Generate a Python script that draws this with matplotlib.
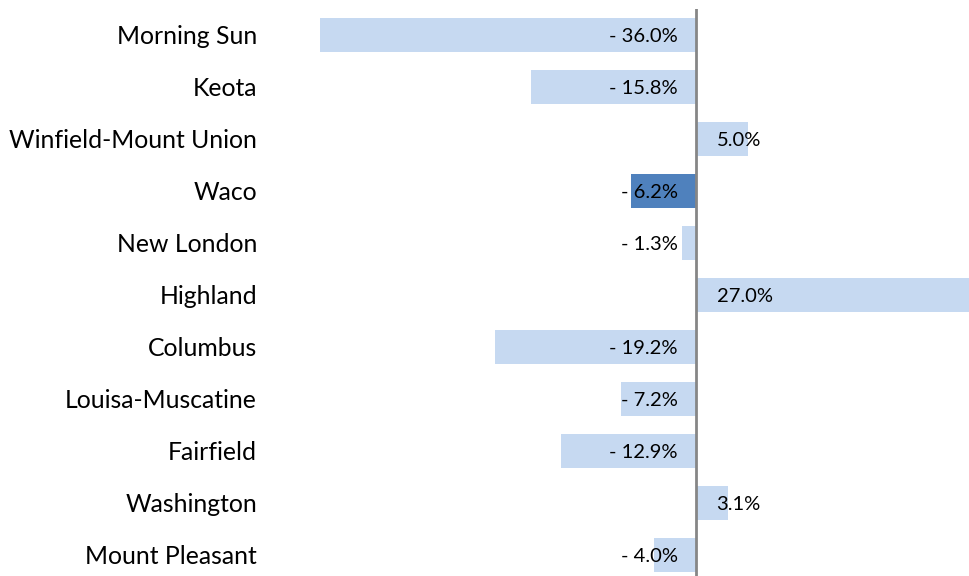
import matplotlib
matplotlib.use("Agg")
import matplotlib.pyplot as plt

categories = ["Morning Sun", "Keota", "Winfield-Mount Union", "Waco", "New London",
              "Highland", "Columbus", "Louisa-Muscatine", "Fairfield", "Washington",
              "Mount Pleasant"]
values = [-36.0, -15.8, 5.0, -6.2, -1.3, 27.0, -19.2, -7.2, -12.9, 3.1, -4.0]
highlight = "Waco"

LIGHT = "#C6D9F1"
DARK = "#4F81BD"
FONT = ["Lato", "DejaVu Sans"]

W, H, DPI = 969, 576, 100
fig = plt.figure(figsize=(W / DPI, H / DPI), dpi=DPI)

# axes geometry (pixels)
ax_left_px, ax_right_px = 300, 969
ax_top_px, ax_bot_px = 9, 581
zero_px = 695.7
px_per_unit = 10.44

ax = fig.add_axes([ax_left_px / W, (H - ax_bot_px) / H,
                   (ax_right_px - ax_left_px) / W, (ax_bot_px - ax_top_px) / H])
ax.set_xlim(-(zero_px - ax_left_px) / px_per_unit, (ax_right_px - zero_px) / px_per_unit)
ax.set_ylim(len(categories) - 0.5, -0.5)

ypos = list(range(len(categories)))
colors = [DARK if c == highlight else LIGHT for c in categories]
ax.barh(ypos, values, height=0.67, color=colors, zorder=2)

ax.axvline(0, color="#868686", lw=2, zorder=3)

for s in ax.spines.values():
    s.set_visible(False)
ax.set_xticks([])
ax.set_yticks(ypos)
ax.set_yticklabels(categories, fontsize=17.8, family=FONT, color="#000000")
ax.tick_params(axis="y", length=0, pad=31)

for y, v in zip(ypos, values):
    if v < 0:
        ax.text(-1.7, y + 0.03, f"- {abs(v):.1f}%", ha="right", va="center",
                fontsize=14.5, family=FONT, color="#000000", zorder=4)
    else:
        ax.text(2.0, y + 0.03, f"{v:.1f}%", ha="left", va="center",
                fontsize=14.5, family=FONT, color="#000000", zorder=4)

fig.savefig("out.png", dpi=DPI)
